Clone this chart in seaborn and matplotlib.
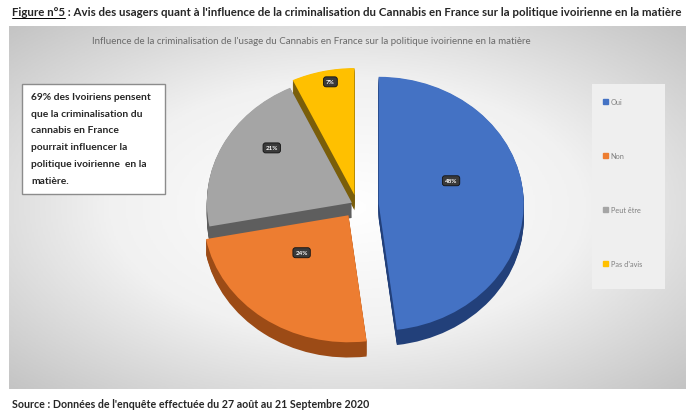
import matplotlib
matplotlib.use("Agg")
import matplotlib.pyplot as plt
import matplotlib.patches as mpatches
from matplotlib.lines import Line2D
from matplotlib.colors import LinearSegmentedColormap
import numpy as np
import seaborn as sns

# data
categories = ["Oui", "Non", "Peut être", "Pas d'avis"]
shares = [48, 24, 21, 7]
top_colors = sns.color_palette(["#4472C4", "#ED7D31", "#A5A5A5", "#FFC000"])
side_colors = sns.color_palette(["#22407A", "#9C4B16", "#5E5E5E", "#7A5E0A"])
explode = [0.15, 0.1, 0.04, 0.08]
label_dist = [0.5, 0.55, 0.62, 0.76]

fig_title_a = "Figure n°5"
fig_title_b = (" : Avis des usagers quant à l'influence de la criminalisation du Cannabis "
               "en France sur la politique ivoirienne en la matière")
chart_title = ("Influence de la criminalisation de l'usage du Cannabis en France "
               "sur la politique ivoirienne en la matière")
note = ("69% des Ivoiriens pensent\nque la criminalisation du\ncannabis en France\n"
        "pourrait influencer la\npolitique ivoirienne  en la\nmatière.")
source = "Source : Données de l'enquête effectuée du 27 août au 21 Septembre 2020"

sns.set_theme(style="white")
plt.rcParams["font.family"] = ["Lato", "DejaVu Sans"]

W, H = 691, 414
fig = plt.figure(figsize=(W / 100, H / 100), dpi=100)
fig.patch.set_facecolor("white")


def px(x0, y0, x1, y1):
    """pixel box (top-left origin) -> figure rect"""
    return [x0 / W, 1 - y1 / H, (x1 - x0) / W, (y1 - y0) / H]


# 1. chart area with radial grey gradient
bg = fig.add_axes(px(9, 27, 686, 390))
yy, xx = np.mgrid[-1:1:200j, -1:1:400j]
r = np.sqrt(xx ** 2 + yy ** 2) / np.sqrt(2)
cmap = LinearSegmentedColormap.from_list("bg", ["#ffffff", "#f1f1f1", "#c4c4c4"])
bg.imshow(r, cmap=cmap, aspect="auto", extent=[0, 1, 0, 1], vmin=0, vmax=1)
bg.axis("off")

# 2. pseudo 3D pie
cx, cy, rx, ry = 357, 206, 145, 127
lim = 1.35
ax = fig.add_axes(px(cx - lim * rx, cy - lim * ry, cx + lim * rx, cy + lim * ry))
depth = 0.12
for d in np.linspace(depth, 0.005, 14):
    ax.pie(shares, explode=explode, colors=side_colors, startangle=90,
           counterclock=False, center=(0, -d), wedgeprops=dict(linewidth=0))
wedges, _, autotexts = ax.pie(
    shares, explode=explode, colors=top_colors, startangle=90,
    counterclock=False, wedgeprops=dict(linewidth=0),
    autopct=lambda p: f"{p:.0f}%",
    textprops=dict(fontsize=4.5, color="white", fontweight="bold",
                   bbox=dict(boxstyle="round,pad=0.4", fc="#3a3a3a",
                             ec="#111111", lw=0.6)))
# push the data labels where Excel's 3D view puts them
for w, t, dist in zip(wedges, autotexts, label_dist):
    mid = np.deg2rad((w.theta1 + w.theta2) / 2)
    x0, y0 = w.center
    t.set_position((x0 + dist * np.cos(mid), y0 + dist * np.sin(mid) + 0.15))
ax.set_aspect("auto")
ax.set_xlim(-lim, lim)
ax.set_ylim(-lim, lim)

# 3. note box
box = mpatches.Rectangle((22 / W, 1 - 195 / H), 143 / W, 110 / H,
                         transform=fig.transFigure, fc="white", ec="#8c8c8c", lw=1)
fig.add_artist(box)
fig.text(31 / W, 1 - 93 / H, note, va="top", ha="left", fontsize=7.4,
         fontweight="bold", linespacing=2.1)

# 4. legend
leg_bg = mpatches.Rectangle((592 / W, 1 - 290 / H), 73 / W, 205 / H,
                            transform=fig.transFigure, fc="#efefef", ec="none")
fig.add_artist(leg_bg)
handles = [mpatches.Patch(color=c, label=l) for c, l in zip(top_colors, categories)]
leg = fig.legend(handles=handles, loc="upper left", bbox_to_anchor=(599 / W, 1 - 95 / H),
                 fontsize=5.3, labelspacing=6.4, handlelength=0.7, handleheight=0.7,
                 handletextpad=0.4, frameon=False, borderpad=0)
for t in leg.get_texts():
    t.set_color("#7f7f7f")

# 5. texts
fig.text(311 / W, 1 - 41 / H, chart_title, ha="center", va="center", fontsize=7.0,
         color="#6a6a6a")
t1 = fig.text(12 / W, 1 - 13 / H, fig_title_a, fontsize=8.3, fontweight="bold", va="center")
fig.canvas.draw()
bb = t1.get_window_extent()
fig.text(bb.x1 / W, 1 - 13 / H, fig_title_b, fontsize=8.3, fontweight="bold", va="center")
fig.add_artist(Line2D([bb.x0 / W, bb.x1 / W], [(bb.y0 - 0.5) / H] * 2,
                      transform=fig.transFigure, lw=0.7, color="black"))
fig.text(12 / W, 1 - 405 / H, source, fontsize=7.7, fontweight="bold", va="center")

fig.savefig("out.png", dpi=100)
